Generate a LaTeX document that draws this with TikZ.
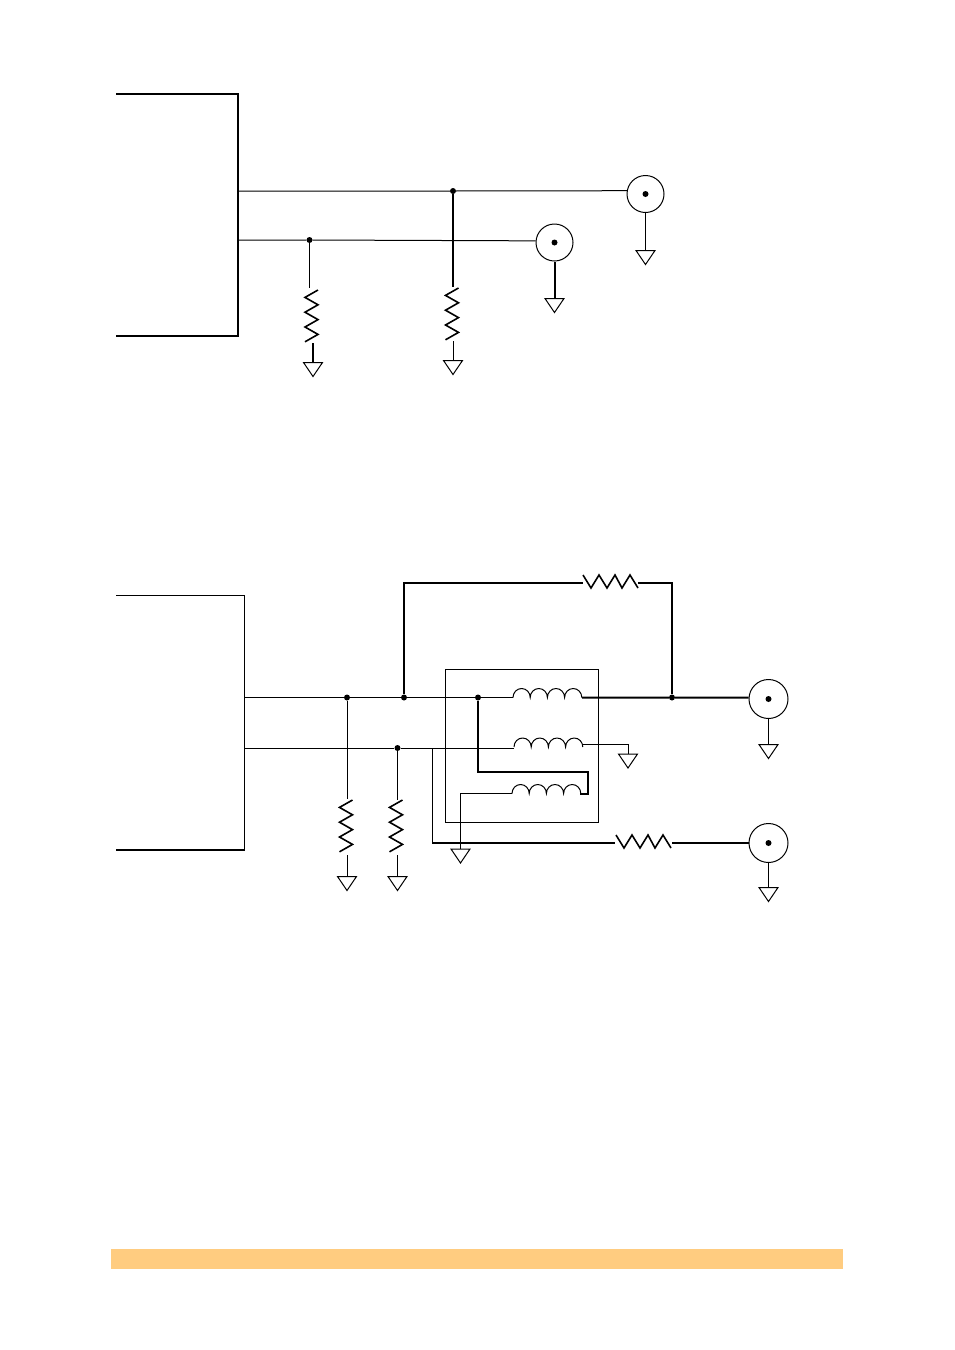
\documentclass[tikz,border=0pt]{standalone}
\usepackage{xcolor}
\usetikzlibrary{shapes.geometric}
\definecolor{barorange}{RGB}{255,204,128}
\tikzset{
  dot/.style={circle, fill=black, inner sep=0pt, minimum size=6pt},
  jack/.style={draw, circle, inner sep=0pt, line width=1pt, minimum size=#1},
  gnd/.style={draw, isosceles triangle, isosceles triangle stretches, shape border rotate=-90, anchor=lower side, inner sep=0pt, minimum width=19pt, minimum height=14pt, line width=1pt},
  wire/.style={line width=1pt},
  mid/.style={line width=1.3pt},
  heavy/.style={line width=2pt},
  pics/resv/.style={code={\draw[line width=1.6pt] (6.5,0) -- (-6.5,7.4) -- (6.5,14.8) -- (-6.5,22.2) -- (6.5,29.6) -- (-6.5,37) -- (6.5,44.4) -- (-6.5,51.8);}},
  pics/resh/.style={code={\draw[line width=1.6pt] (0,-7) -- (8,6) -- (16,-7) -- (24,6) -- (32,-7) -- (39,6) -- (47,-7) -- (55,6);}},
  pics/coil/.style={code={\draw[line width=1pt] (0,0) arc[start angle=180, end angle=360, x radius=8.6, y radius=9] arc[start angle=180, end angle=360, x radius=8.6, y radius=9] arc[start angle=180, end angle=360, x radius=8.6, y radius=9] arc[start angle=180, end angle=360, x radius=8.6, y radius=9];}}
}
\begin{document}
\begin{tikzpicture}[x=1pt, y=-1pt]
\useasboundingbox (0,0) rectangle (954,1350);

% upper circuit
\draw[mid] (116,94) -- (238,94) -- (238,336) -- (116,336);
\coordinate (a1) at (238,191);
\coordinate (a2) at (238,240);
\node[dot] (d1) at (453,191) {};
\node[dot] (d2) at (309.5,240) {};
\node[jack=37pt] (j1) at (645.5,194) {};
\node[jack=37pt] (j2) at (554.5,242.5) {};
\node[dot] at (j1) (j1c) {};
\node[dot] at (j2) (j2c) {};
\node[gnd] (g1) at (645.5,250) {};
\node[gnd] (g2) at (554.5,298) {};
\node[gnd] (g3) at (313,362) {};
\node[gnd] (g4) at (453,360) {};
\coordinate (r1t) at (309.5,288);
\coordinate (r1b) at (313,343);
\coordinate (r2t) at (453,287);
\coordinate (r2b) at (453,341);

\draw[wire] (a1) -- (d1) -- (j1.170);
\draw[wire] (a2) -- (d2) -- (j2.175);
\draw[wire] (d2) -- (r1t);
\draw[heavy] (d1) -- (r2t);
\draw[heavy] (r1b) -- (g3.lower side);
\draw[wire] (r2b) -- (g4.lower side);
\draw[wire] (j1.south) -- (g1.lower side);
\draw[heavy] (j2.south) -- (g2.lower side);
\pic at (311.5,290) {resv};
\pic at (452,288) {resv};

% lower circuit
\draw[wire] (116,595.5) -- (244.5,595.5) -- (244.5,850);
\draw[mid] (244.5,850) -- (116,850);
\draw[wire] (445,669) rectangle (598,822);
\coordinate (b1) at (244,697.5);
\coordinate (b2) at (244,748);
\node[dot] (d3) at (347,697.5) {};
\node[dot] (d4) at (404,697.5) {};
\node[dot] (d5) at (478,697.5) {};
\node[dot] (d6) at (672,697.5) {};
\node[dot] (d7) at (397.5,748) {};
\node[jack=39pt] (j3) at (768.5,699) {};
\node[jack=39pt] (j4) at (768.5,843) {};
\node[dot] at (j3) (j3c) {};
\node[dot] at (j4) (j4c) {};
\node[gnd] (g5) at (768.5,744) {};
\node[gnd] (g6) at (768.5,887) {};
\node[gnd] (g7) at (628,753.5) {};
\node[gnd] (g8) at (460.5,848.5) {};
\node[gnd] (g9) at (347,876) {};
\node[gnd] (g10) at (397.5,876) {};

% coil ends
\coordinate (l1a) at (513,697.5);
\coordinate (l1b) at (582,697.5);
\coordinate (l2a) at (514,748);
\coordinate (l2b) at (582,744);
\coordinate (l3a) at (512,793.5);
\coordinate (l3b) at (580,794);
\pic at (l1a) {coil};
\pic at (514,747) {coil};
\pic at (l3a) {coil};

\draw[wire] (b1) -- (d3) -- (d4) -- (d5) -- (l1a);
\draw[heavy] (l1b) -- (d6) -- (j3.176);
\draw[wire] (b2) -- (d7) -- (l2a);
\draw[wire] (l2b) -- (628,744) -- (g7.lower side);
\draw[mid] (d5) -- (478,772) -- (588,772) -- (588,794) -- (l3b);
\draw[mid] (l3a) -- (460.5,793.5) -- (g8.lower side);
\draw[wire] (d3) -- (347,799);
\draw[wire] (d7) -- (397.5,800);
\draw[wire] (347,855) -- (g9.lower side);
\draw[wire] (397.5,855) -- (g10.lower side);
\pic at (346,800) {resv};
\pic at (396,800) {resv};

% feedback loop and lower output
\draw[mid] (d4) -- (404,583) -- (583,583);
\draw[mid] (638,583) -- (672,583) -- (d6);
\pic at (583,582) {resh};
\draw[wire] (432,748) -- (432,843);
\draw[heavy] (432,843) -- (615,843);
\draw[heavy] (672,843) -- (j4.west);
\pic at (616,842) {resh};
\draw[wire] (j3.south) -- (g5.lower side);
\draw[wire] (j4.south) -- (g6.lower side);

% bottom bar
\fill[barorange] (111,1249) rectangle (843,1269);
\end{tikzpicture}
\end{document}
